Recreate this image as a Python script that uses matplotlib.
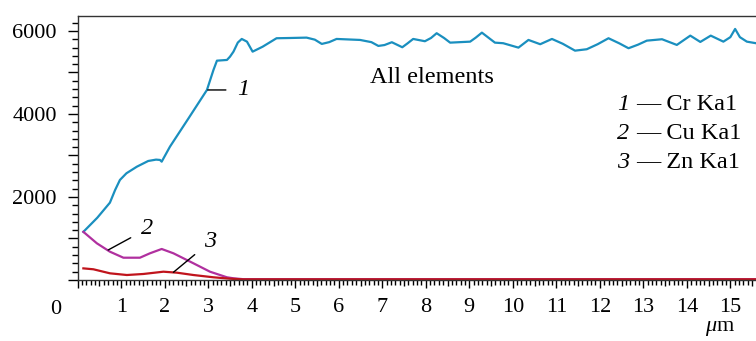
import matplotlib.pyplot as plt
from matplotlib.ticker import MultipleLocator, FixedLocator

plt.rcParams['font.family'] = 'Liberation Serif'
plt.rcParams['mathtext.fontset'] = 'custom'
plt.rcParams['mathtext.rm'] = 'Liberation Serif'
plt.rcParams['mathtext.it'] = 'Liberation Serif:italic'

# Cr Ka1
cr_x = [0.13, 0.45, 0.74, 0.86, 0.97, 1.12, 1.36, 1.62, 1.80, 1.89, 1.93, 2.12, 2.55, 2.97, 3.12,
        3.20, 3.43, 3.50, 3.58, 3.68, 3.77, 3.89, 4.02, 4.25, 4.57, 4.88, 5.26, 5.45, 5.61, 5.78, 5.95,
        6.49, 6.75, 6.91, 7.05, 7.22, 7.46, 7.58, 7.71, 7.98, 8.12, 8.25, 8.42, 8.56, 9.02, 9.15,
        9.29, 9.45, 9.59, 9.78, 10.13, 10.36, 10.63, 10.90, 11.15, 11.43, 11.70, 11.95, 12.20,
        12.45, 12.66, 12.88, 13.08, 13.43, 13.77, 14.08, 14.31, 14.55, 14.84, 15.00, 15.11, 15.22,
        15.38, 15.59]
cr_y = [1160, 1500, 1863, 2169, 2410, 2571, 2730, 2867, 2900, 2892, 2851, 3212, 3900, 4578, 5060,
        5284, 5301, 5380, 5501, 5720, 5807, 5742, 5501, 5620, 5824, 5830, 5839, 5790, 5687, 5730, 5807,
        5783, 5730, 5639, 5660, 5728, 5607, 5700, 5807, 5752, 5830, 5945, 5830, 5718, 5742, 5840,
        5959, 5830, 5718, 5704, 5598, 5783, 5680, 5807, 5690, 5525, 5559, 5680, 5824,
        5700, 5583, 5670, 5766, 5800, 5663, 5887, 5735, 5887, 5742, 5850, 6048, 5850,
        5742, 5704]

# Cu Ka1
cu_x = [0.13, 0.44, 0.74, 1.05, 1.43, 1.66, 1.93, 2.20, 2.66, 3.04, 3.43, 3.58, 3.80, 15.59]
cu_y = [1160, 884, 682, 537, 537, 643, 747, 643, 402, 200, 65, 41, 20, 20]

# Zn Ka1
zn_x = [0.13, 0.36, 0.74, 1.13, 1.51, 1.97, 2.28, 2.66, 3.12, 3.50, 3.80, 15.59]
zn_y = [280, 258, 161, 120, 145, 200, 176, 120, 65, 31, 15, 15]

legend_labels = ['Cr Ka1', 'Cu Ka1', 'Zn Ka1']
fs = 16
tfs = 17.5

fig = plt.figure(figsize=(7.56, 3.41), dpi=100)
ax = fig.add_axes([0.1028, 0.1789, 0.8972, 0.7742])

ax.plot(cr_x, cr_y, color='#1a8fbf', lw=1.6)
ax.plot(cu_x, cu_y, color='#b0309f', lw=1.6)
ax.plot(zn_x, zn_y, color='#c0141c', lw=1.6)

ax.set_xlim(0, 15.59)
ax.set_ylim(0, 6360)
ax.spines['right'].set_visible(False)
for s in ['left', 'bottom', 'top']:
    ax.spines[s].set_linewidth(1.0)
    ax.spines[s].set_color('#333333')

# y ticks
ax.yaxis.set_major_locator(MultipleLocator(1000))
ax.yaxis.set_minor_locator(MultipleLocator(200))
ax.set_yticklabels(['' if v % 2000 or v == 0 else '%d' % v for v in ax.get_yticks()])
ax.tick_params(axis='y', which='major', length=7, width=1, pad=8, labelsize=fs)
ax.tick_params(axis='y', which='minor', length=4.5, width=1)

# x ticks
xmaj = [i * 0.5 for i in range(32)]
ax.xaxis.set_major_locator(FixedLocator(xmaj))
ax.xaxis.set_minor_locator(MultipleLocator(0.1))
ax.set_xticklabels(['%d' % v if v == int(v) and v > 0 else '' for v in xmaj])
ax.tick_params(axis='x', which='major', length=6, width=1, pad=7, labelsize=fs)
ax.tick_params(axis='x', which='minor', length=3.5, width=1)
for v, t in zip(xmaj, ax.xaxis.get_major_ticks()):
    if v != int(v):
        t.tick1line.set_markersize(4.5)

ax.annotate('0', xy=(0, 0), xycoords=('data', 'axes fraction'), xytext=(-16, -21),
            textcoords='offset points', ha='center', va='center', fontsize=fs)
ax.annotate(r'$\mu$m', xy=(14.77, 0), xycoords=('data', 'axes fraction'), xytext=(0, -35),
            textcoords='offset points', ha='center', va='center', fontsize=fs)

ax.text(6.72, 4867, 'All elements', fontsize=tfs, ha='left', va='center')

for i, (lab, y) in enumerate(zip(legend_labels, [4217, 3518, 2819])):
    ax.text(12.4, y, str(i + 1), fontsize=tfs, style='italic', ha='left', va='center')
    ax.text(12.83, y, '— ' + lab, fontsize=tfs, ha='left', va='center')

arrow = dict(arrowstyle='-', color='black', lw=1, shrinkA=6, shrinkB=0)
ax.annotate('1', xy=(2.99, 4578), xytext=(3.80, 4578), fontsize=tfs, style='italic',
            ha='center', va='center', arrowprops=arrow)
ax.annotate('2', xy=(0.70, 723), xytext=(1.59, 1229), fontsize=tfs, style='italic',
            ha='center', va='center', arrowprops=arrow)
ax.annotate('3', xy=(2.20, 186), xytext=(3.04, 916), fontsize=tfs, style='italic',
            ha='center', va='center', arrowprops=arrow)

plt.savefig('out.png', dpi=100)
